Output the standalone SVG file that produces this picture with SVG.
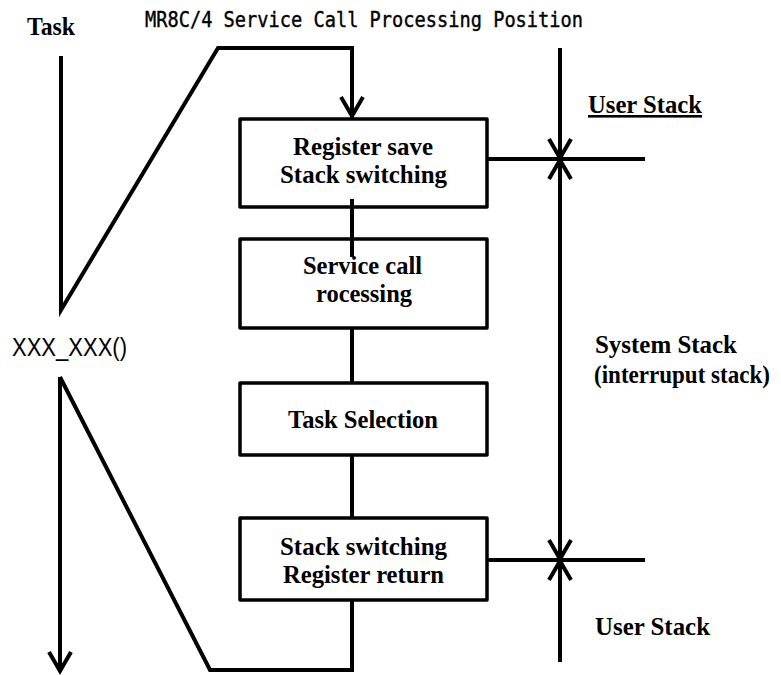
<svg xmlns="http://www.w3.org/2000/svg" width="781" height="675" viewBox="0 0 781 675">
<style>
.bx{fill:#fff;stroke:#000;stroke-width:3.5;stroke-linejoin:round}
.ln{fill:none;stroke:#000;stroke-width:4;stroke-linejoin:miter}
.t{font-family:"Liberation Serif",serif;font-weight:bold;font-size:26px;fill:#000}
.m{font-family:"DejaVu Sans Mono",monospace;font-size:22px;fill:#000;stroke:#000;stroke-width:0.4}
.s{font-family:"Liberation Sans",sans-serif;font-size:26px;fill:#000}
</style>
<defs>
<marker id="ah" markerUnits="userSpaceOnUse" markerWidth="30" markerHeight="30" viewBox="-25 -15 30 30" refX="0" refY="0" orient="auto-start-reverse" overflow="visible">
<path d="M-20,-11 L-1,0 L-20,11" fill="none" stroke="#000" stroke-width="4"/>
</marker>
</defs>
<rect width="781" height="675" fill="#fff"/>
<text class="t" x="27" y="35" font-size="24" textLength="48" lengthAdjust="spacingAndGlyphs">Task</text>
<text class="m" x="145" y="27" textLength="438" lengthAdjust="spacingAndGlyphs">MR8C/4 Service Call Processing Position</text>
<text class="s" x="12" y="356" textLength="115" lengthAdjust="spacingAndGlyphs">XXX_XXX()</text>
<text class="t" x="588" y="113" text-decoration="underline" textLength="114" lengthAdjust="spacingAndGlyphs">User Stack</text>
<text class="t" x="595" y="353" textLength="142" lengthAdjust="spacingAndGlyphs">System Stack</text>
<text class="t" x="594" y="383" font-size="23" textLength="176" lengthAdjust="spacingAndGlyphs">(interruput stack)</text>
<text class="t" x="595" y="635" textLength="115" lengthAdjust="spacingAndGlyphs">User Stack</text>
<g id="box1">
<rect class="bx" x="240" y="119" width="247" height="88"/>
<text class="t" x="293" y="155" textLength="140" lengthAdjust="spacingAndGlyphs">Register save</text>
<text class="t" x="280" y="183" textLength="167" lengthAdjust="spacingAndGlyphs">Stack switching</text>
</g>
<g id="box2">
<rect class="bx" x="240" y="239" width="247" height="89"/>
<text class="t" x="303" y="274" font-size="24" textLength="119" lengthAdjust="spacingAndGlyphs">Service call</text>
<text class="t" x="316" y="302" font-size="24" textLength="96" lengthAdjust="spacingAndGlyphs">rocessing</text>
</g>
<g id="box3">
<rect class="bx" x="240" y="383" width="247" height="72"/>
<text class="t" x="288" y="428" textLength="150" lengthAdjust="spacingAndGlyphs">Task Selection</text>
</g>
<g id="box4">
<rect class="bx" x="240" y="518" width="247" height="82"/>
<text class="t" x="280" y="555" textLength="167" lengthAdjust="spacingAndGlyphs">Stack switching</text>
<text class="t" x="283" y="583" textLength="161" lengthAdjust="spacingAndGlyphs">Register return</text>
</g>
<g id="connectors">
<path class="ln" d="M61,56 L61,310 L218,48 L352,48 L352,117" marker-end="url(#ah)"/>
<path class="ln" d="M60,377 L60,672" marker-end="url(#ah)"/>
<path class="ln" d="M60,377 L210,670 L352,670 L352,600"/>
<line class="ln" x1="352" y1="199" x2="352" y2="257"/>
<line class="ln" x1="352" y1="328" x2="352" y2="383"/>
<line class="ln" x1="352" y1="455" x2="352" y2="518"/>
<line class="ln" x1="487" y1="159" x2="645" y2="159"/>
<line class="ln" x1="487" y1="560" x2="645" y2="560"/>
<line class="ln" x1="560" y1="48" x2="560" y2="159" marker-end="url(#ah)"/>
<line class="ln" x1="560" y1="159" x2="560" y2="560" marker-start="url(#ah)" marker-end="url(#ah)"/>
<line class="ln" x1="560" y1="662" x2="560" y2="560" marker-end="url(#ah)"/>
</g>
</svg>
